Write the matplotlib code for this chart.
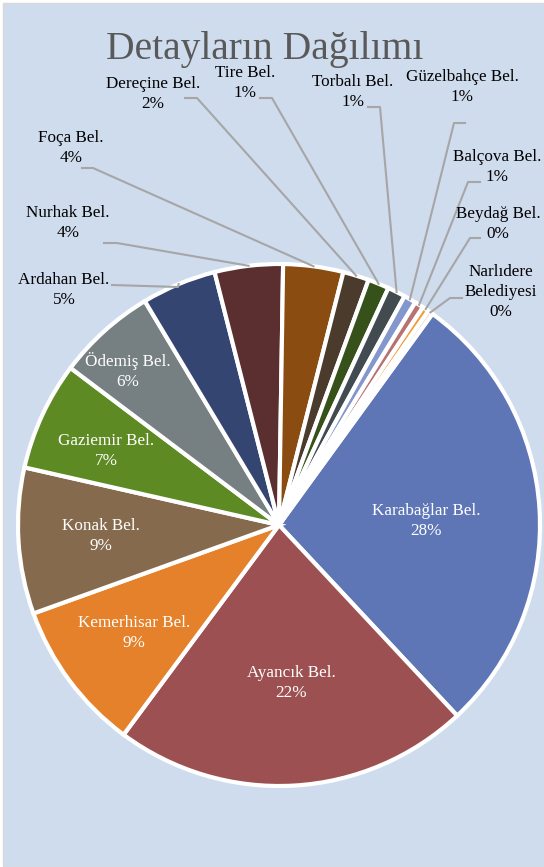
import numpy as np
import matplotlib.pyplot as plt
from matplotlib.patches import Rectangle

names = ['Karabağlar Bel.', 'Ayancık Bel.', 'Kemerhisar Bel.', 'Konak Bel.', 'Gaziemir Bel.',
         'Ödemiş Bel.', 'Ardahan Bel.', 'Nurhak Bel.', 'Foça Bel.', 'Dereçine Bel.',
         'Tire Bel.', 'Torbalı Bel.', 'Güzelbahçe Bel.', 'Balçova Bel.', 'Beydağ Bel.',
         'Narlıdere\nBelediyesi']
values = [27.9, 22.0, 9.3, 9.0, 6.7, 6.1, 4.6, 4.2, 3.7, 1.6, 1.3, 1.1, 0.75, 0.55, 0.4, 0.3]
colors = ['#5F76B6', '#9D5051', '#E5812A', '#866A4D', '#5E8A24', '#767F82', '#344571',
          '#5B2E2F', '#8B4C12', '#4B3B2C', '#37511A', '#414B50', '#8497CC', '#B77272',
          '#F39A3F', '#D8CFC4']

W, H = 544, 867
cx, cy, R = 279, 525, 261

# inner label centres (pixels, y down) for the big slices
inside_pos = [(426, 521), (291, 683), (134, 633), (101, 536), (106, 451), (128, 371)]
# outside labels: text centre, elbow point, end of line near text
outside_pos = [
    ((64, 290), (178, 287), (112, 285)),
    ((68, 223), (117, 243), (104, 243)),
    ((71, 148), (93, 168), (82, 168)),
    ((153, 94), (197, 98), (185, 98)),
    ((245, 83), (272, 98), (260, 98)),
    ((353, 92), (380, 107), (368, 107)),
    ((462, 87), (454, 123), (465, 123)),
    ((497, 167), (468, 182), (480, 182)),
    ((498, 224), (470, 238), (480, 238)),
    ((501, 292), (450, 298), (462, 298)),
]

fig = plt.figure(figsize=(W / 100, H / 100), dpi=100)
fig.patch.set_facecolor('white')
ax = fig.add_axes([0, 0, 1, 1])
ax.add_patch(Rectangle((3, 0), W - 3, H - 3, facecolor='#CFDCEE', edgecolor='#D9D9D9', lw=1, zorder=0))

def py(y):
    return H - y

wedges, _ = ax.pie(values, colors=colors, startangle=54, counterclock=False,
                   center=(cx, py(cy)), radius=R, frame=True,
                   wedgeprops=dict(edgecolor='white', linewidth=3))
ax.set_xlim(0, W)
ax.set_ylim(0, H)
ax.set_aspect('equal')
ax.axis('off')

total = sum(values)
font = ['Liberation Serif', 'DejaVu Serif']
for i, (nm, v) in enumerate(zip(names, values)):
    txt = nm + '\n' + str(int(round(v / total * 100))) + '%'
    if i < len(inside_pos):
        x, y = inside_pos[i]
        ax.text(x, py(y), txt, ha='center', va='center', color='white', fontsize=12.3,
                family=font, linespacing=1.3)
    else:
        (tx, ty), (ex, ey), (lx, ly) = outside_pos[i - len(inside_pos)]
        w = wedges[i]
        a = np.deg2rad((w.theta1 + w.theta2) / 2)
        px, pyy = cx + R * np.cos(a), py(cy) + R * np.sin(a)
        ax.plot([px, ex, lx], [pyy, py(ey), py(ly)], color='#A6A6A6', lw=1.5, zorder=1)
        ax.text(tx, py(ty), txt, ha='center', va='center', color='black', fontsize=12.3,
                family=font, linespacing=1.3)

ax.text(265, py(50), 'Detayların Dağılımı', ha='center', va='center', color='#595959',
        fontsize=28.5, family=font)

fig.savefig('out.png', dpi=100)
